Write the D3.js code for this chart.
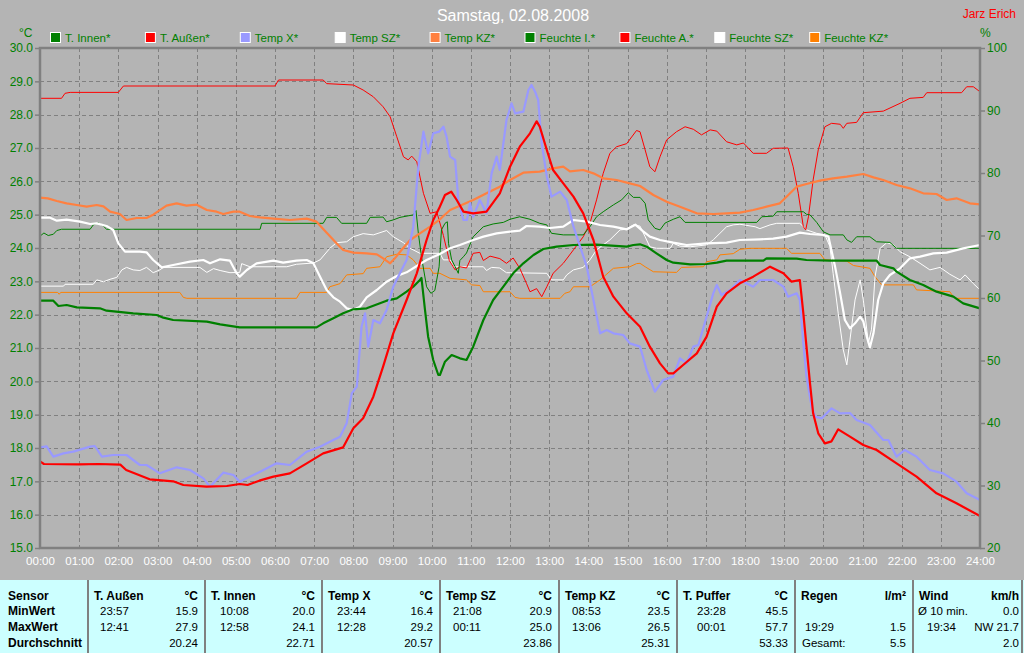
<!DOCTYPE html>
<html><head><meta charset="utf-8">
<script src="https://cdn.jsdelivr.net/npm/d3@7"></script>
<style>
html,body{margin:0;padding:0;background:#b4b4b4;}
svg{display:block;font-family:"Liberation Sans",Arial,sans-serif;}
</style></head><body>
<svg id="c" width="1024" height="653"></svg>
<script>
// ---------- DATA ----------
const titleText = "Samstag, 02.08.2008";
const authorText = "Jarz Erich";
const hourTicks = d3.range(0, 25);
const tempTicks = d3.range(15, 30.001, 1);
const humTicks = d3.range(20, 100.001, 10);

const legendNames = ["T. Innen*", "T. Außen*", "Temp X*", "Temp SZ*", "Temp KZ*", "Feuchte I.*", "Feuchte A.*", "Feuchte SZ*", "Feuchte KZ*"];
const legendColors = ["#008000", "#ff0000", "#9999ff", "#ffffff", "#ff8040", "#008000", "#ff0000", "#ffffff", "#ff8000"];

// temperatures [hour, °C]
const tInnen = [[0,22.42],[0.34,22.42],[0.47,22.26],[0.68,22.29],[0.94,22.22],[1.53,22.19],[1.7,22.12],[2.38,22.04],[2.98,21.99],[3.15,21.91],[3.4,21.84],[4.26,21.79],[4.6,21.71],[5.1,21.62],[7.06,21.62],[7.23,21.74],[7.49,21.89],[7.74,22.04],[8.0,22.16],[8.34,22.19],[8.68,22.34],[8.85,22.42],[9.11,22.49],[9.36,22.69],[9.53,22.84],[9.7,23.04],[9.74,23.1],[9.83,22.14],[9.91,21.34],[10.04,20.64],[10.17,20.19],[10.21,20.19],[10.34,20.59],[10.51,20.79],[10.72,20.69],[10.89,20.64],[11.06,21.04],[11.32,21.84],[11.57,22.44],[11.83,22.84],[12.08,23.24],[12.34,23.54],[12.6,23.79],[12.85,23.97],[13.19,24.04],[13.62,24.09],[14.21,24.1],[14.98,24.04],[15.15,24.09],[15.32,24.11],[15.49,24.04],[15.74,23.84],[16.0,23.64],[16.17,23.56],[16.6,23.51],[17.02,23.52],[17.28,23.56],[17.53,23.62],[18.47,23.62],[18.55,23.69],[19.32,23.68],[19.57,23.64],[20.17,23.62],[21.36,23.62],[21.45,23.49],[21.79,23.39],[21.87,23.29],[22.21,23.04],[22.55,22.89],[22.89,22.69],[23.32,22.54],[23.57,22.34],[24,22.19]];
const tAussen = [[0,17.6],[0.1,17.52],[1.0,17.51],[1.5,17.52],[2.05,17.5],[2.2,17.34],[2.8,17.06],[3.4,17.0],[3.66,16.89],[4.25,16.84],[4.77,16.86],[5.1,16.92],[5.3,16.89],[5.6,17.02],[5.96,17.14],[6.38,17.24],[6.81,17.54],[7.23,17.84],[7.74,18.02],[8.0,18.59],[8.25,18.89],[8.51,19.54],[8.76,20.44],[9.02,21.44],[9.36,22.44],[9.62,23.24],[9.87,24.24],[10.04,24.84],[10.19,25.19],[10.34,25.59],[10.5,25.69],[10.64,25.44],[10.81,25.09],[11.06,25.04],[11.4,25.09],[11.74,25.64],[12.0,26.44],[12.25,27.04],[12.51,27.44],[12.68,27.8],[12.76,27.64],[12.94,26.94],[13.1,26.34],[13.36,25.94],[13.62,25.54],[13.87,25.04],[14.13,24.24],[14.38,23.14],[14.64,22.54],[14.98,22.04],[15.32,21.64],[15.57,21.04],[15.83,20.54],[16.04,20.24],[16.17,20.24],[16.42,20.49],[16.77,20.84],[17.02,21.34],[17.28,22.24],[17.53,22.64],[17.87,22.94],[18.21,23.14],[18.64,23.44],[18.98,23.24],[19.19,22.99],[19.40,23.04],[19.49,22.04],[19.57,21.04],[19.66,19.94],[19.74,19.04],[19.87,18.44],[20.04,18.14],[20.21,18.2],[20.38,18.56],[20.68,18.34],[21.02,18.09],[21.36,17.94],[21.87,17.54],[22.38,17.14],[22.89,16.64],[23.4,16.34],[24,15.96]];
const tempX = [[0,18.02],[0.17,18.05],[0.34,17.74],[0.6,17.84],[0.85,17.89],[1.28,18.04],[1.4,18.06],[1.58,17.74],[1.87,17.79],[2.21,17.79],[2.55,17.49],[2.72,17.49],[3.06,17.24],[3.49,17.42],[3.83,17.34],[4.17,17.09],[4.34,16.84],[4.68,17.26],[4.94,17.19],[5.1,16.99],[5.62,17.29],[6.04,17.54],[6.38,17.49],[6.81,17.89],[7.15,18.04],[7.49,18.24],[7.66,18.34],[7.83,18.74],[7.96,19.64],[8.09,19.84],[8.21,21.64],[8.3,22.04],[8.38,21.04],[8.51,21.84],[8.68,21.74],[8.85,22.14],[9.02,22.84],[9.19,23.24],[9.36,23.64],[9.53,24.64],[9.66,26.44],[9.79,27.49],[9.91,26.84],[10.04,27.44],[10.19,27.49],[10.3,27.64],[10.38,27.34],[10.47,26.74],[10.6,26.64],[10.68,25.44],[10.81,24.84],[10.9,24.84],[10.98,25.34],[11.06,24.94],[11.23,25.44],[11.4,25.04],[11.53,26.24],[11.66,26.74],[11.74,26.34],[11.91,27.84],[12.04,28.34],[12.13,28.04],[12.34,28.09],[12.47,28.74],[12.55,28.89],[12.64,28.69],[12.72,28.44],[12.81,27.14],[12.94,26.14],[13.06,25.54],[13.28,25.69],[13.45,25.44],[13.62,24.64],[13.79,24.04],[13.96,23.44],[14.13,22.44],[14.3,21.44],[14.47,21.54],[14.64,21.44],[14.89,21.39],[15.06,21.14],[15.32,21.04],[15.49,20.34],[15.7,19.69],[15.91,20.04],[16.17,20.14],[16.34,20.69],[16.51,20.54],[16.68,21.04],[16.81,21.09],[17.02,21.94],[17.19,22.64],[17.28,22.89],[17.4,22.59],[17.62,22.74],[17.87,23.04],[18.21,22.84],[18.38,23.04],[18.72,23.04],[18.98,22.84],[19.1,22.54],[19.32,22.64],[19.40,22.44],[19.49,21.14],[19.57,20.14],[19.70,19.24],[19.79,18.94],[19.96,18.89],[20.21,19.19],[20.43,19.04],[20.68,19.05],[20.85,18.84],[21.19,18.69],[21.53,18.24],[21.66,18.24],[21.87,17.74],[22.08,17.94],[22.38,17.74],[22.72,17.34],[23.06,17.24],[23.4,16.99],[23.66,16.64],[24,16.44]];
const tempSZ = [[0,24.91],[0.26,24.91],[0.43,24.82],[0.68,24.85],[1.02,24.79],[1.28,24.72],[1.45,24.74],[1.7,24.66],[1.87,24.54],[2.0,24.14],[2.17,23.89],[2.55,23.89],[2.72,23.87],[2.89,23.64],[3.11,23.42],[3.4,23.49],[3.83,23.59],[4.17,23.64],[4.34,23.54],[4.6,23.66],[4.85,23.62],[5.02,23.24],[5.1,23.14],[5.28,23.34],[5.53,23.54],[5.96,23.62],[6.21,23.56],[6.55,23.62],[6.81,23.64],[6.98,23.54],[7.15,23.14],[7.32,22.74],[7.49,22.52],[7.66,22.39],[7.83,22.19],[8.0,22.14],[8.17,22.24],[8.34,22.52],[8.6,22.74],[8.85,22.99],[9.11,23.16],[9.36,23.27],[9.62,23.46],[9.87,23.64],[10.21,23.82],[10.47,23.99],[10.72,24.09],[11.06,24.24],[11.32,24.34],[11.66,24.44],[12.0,24.49],[12.25,24.52],[12.42,24.66],[12.76,24.64],[13.02,24.6],[13.36,24.64],[13.62,24.84],[13.96,24.79],[14.3,24.69],[14.64,24.64],[14.98,24.56],[15.2,24.7],[15.4,24.5],[15.57,24.34],[15.83,24.24],[16.17,24.16],[16.51,24.09],[17.02,24.14],[17.53,24.16],[17.87,24.24],[18.38,24.26],[18.72,24.28],[19.06,24.34],[19.40,24.46],[19.66,24.42],[20.0,24.39],[20.13,24.34],[20.3,23.44],[20.43,22.64],[20.55,21.84],[20.68,21.59],[20.81,21.74],[20.94,21.94],[21.02,21.8],[21.11,21.34],[21.19,21.02],[21.28,21.44],[21.4,22.44],[21.53,22.94],[21.7,23.19],[21.96,23.39],[22.21,23.69],[22.47,23.74],[22.81,23.84],[23.15,23.86],[23.57,23.99],[24,24.09]];
const tempKZ = [[0,25.51],[0.2,25.49],[0.43,25.41],[0.68,25.34],[0.94,25.29],[1.19,25.24],[1.45,25.29],[1.62,25.25],[1.79,25.09],[2.04,25.02],[2.21,24.84],[2.47,24.9],[2.72,24.9],[2.89,25.0],[3.23,25.27],[3.49,25.34],[3.74,25.27],[4.0,25.3],[4.26,25.14],[4.51,25.09],[4.68,25.02],[4.94,25.09],[5.1,25.09],[5.36,24.96],[5.62,24.92],[5.96,24.88],[6.38,24.84],[6.81,24.88],[7.06,24.79],[7.32,24.46],[7.57,24.14],[7.74,23.94],[8.0,23.86],[8.34,23.84],[8.6,23.81],[8.76,23.69],[8.94,23.54],[9.06,23.69],[9.23,23.94],[9.45,24.24],[9.7,24.44],[9.96,24.64],[10.21,24.86],[10.3,24.96],[10.47,25.14],[10.72,25.27],[11.06,25.44],[11.4,25.64],[11.74,25.84],[12.0,26.04],[12.34,26.26],[12.76,26.29],[13.1,26.39],[13.36,26.44],[13.53,26.3],[13.87,26.34],[14.13,26.24],[14.38,26.09],[14.72,26.04],[15.06,25.94],[15.32,25.86],[15.66,25.59],[16.0,25.39],[16.34,25.24],[16.77,25.04],[17.19,25.02],[17.53,25.04],[17.87,25.06],[18.21,25.14],[18.55,25.24],[18.89,25.34],[19.06,25.54],[19.32,25.84],[19.57,25.92],[19.91,26.02],[20.25,26.09],[20.6,26.14],[21.02,26.22],[21.28,26.12],[21.53,26.04],[21.87,25.89],[22.21,25.79],[22.55,25.64],[22.89,25.62],[23.15,25.44],[23.4,25.49],[23.74,25.34],[24,25.31]];

// humidities [hour, %]
const feuchteI = [[0,69.9],[0.1,70.4],[0.21,70.0],[0.34,70.2],[0.43,70.8],[0.55,71.0],[1.28,71.0],[1.36,71.7],[1.49,72.0],[1.62,71.5],[1.7,71.0],[5.62,71.0],[5.66,71.95],[7.23,71.95],[7.32,72.9],[7.57,72.9],[7.7,71.95],[8.34,71.95],[8.43,72.9],[8.76,72.95],[8.85,72.2],[9.02,72.5],[9.19,72.9],[9.53,73.3],[9.6,74.0],[9.66,70.35],[9.74,66.6],[9.87,61.8],[9.98,60.75],[10.08,61.2],[10.19,65.0],[10.25,70.9],[10.34,71.95],[10.4,72.2],[10.43,68.75],[10.51,66.1],[10.6,65.0],[10.68,63.95],[10.72,66.0],[10.81,66.6],[10.89,67.2],[11.06,69.8],[11.32,71.4],[11.57,71.85],[11.83,72.1],[12.0,72.6],[12.25,73.0],[12.51,72.6],[12.76,71.95],[12.94,71.7],[13.06,70.35],[13.36,70.1],[13.87,70.1],[14.04,71.4],[14.21,73.0],[14.38,73.8],[14.64,74.9],[14.85,75.7],[15.02,76.85],[15.15,76.1],[15.32,76.1],[15.45,75.15],[15.53,72.5],[15.7,71.15],[15.83,70.9],[15.96,72.0],[16.17,72.6],[16.34,73.0],[16.47,72.1],[18.3,72.1],[18.43,73.0],[18.72,73.1],[18.81,73.8],[19.49,73.8],[19.57,73.4],[19.66,73.3],[19.83,72.1],[20.0,70.6],[20.17,70.1],[20.51,70.1],[20.6,69.3],[20.72,68.9],[20.85,69.8],[21.19,69.8],[21.36,69.0],[21.7,68.9],[21.87,67.95],[24,67.95]];
const feuchteA = [[0,91.95],[0.55,91.95],[0.64,92.75],[0.77,92.9],[2.0,92.9],[2.13,93.92],[6.0,93.92],[6.09,94.88],[7.23,94.88],[7.32,94.3],[8.0,94.08],[8.25,93.28],[8.51,92.2],[8.76,90.6],[8.94,89.0],[9.11,85.8],[9.28,82.6],[9.4,82.1],[9.49,82.7],[9.62,81.8],[9.79,76.75],[9.96,73.55],[10.13,73.8],[10.3,70],[10.45,66],[10.6,64.5],[10.72,65.0],[10.89,64.8],[11.06,67.15],[11.23,67.3],[11.32,66.0],[11.49,66.7],[11.74,66.3],[11.91,65.55],[12.08,66.4],[12.25,64.75],[12.42,62.35],[12.51,61.0],[12.68,61.5],[12.81,60.2],[12.94,61.8],[13.1,63.95],[13.36,65.55],[13.62,67.7],[13.87,69.8],[14.04,71.95],[14.21,75.7],[14.38,79.95],[14.55,83.15],[14.72,84.2],[14.98,84.7],[15.23,86.8],[15.32,86.6],[15.45,83.7],[15.57,81.0],[15.7,80.2],[15.83,82.6],[16.0,85.3],[16.25,86.6],[16.47,87.4],[16.68,87.0],[16.89,86.1],[17.11,86.9],[17.28,86.7],[17.53,85.0],[17.79,84.5],[17.96,84.8],[18.21,83.15],[18.55,83.15],[18.72,83.95],[19.1,84.0],[19.23,81.0],[19.36,76.75],[19.49,71.4],[19.55,70.9],[19.62,73.0],[19.74,78.9],[19.87,83.7],[20.04,87.4],[20.21,87.95],[20.43,87.8],[20.51,87.15],[20.6,87.95],[20.85,88.1],[21.02,89.65],[21.53,89.9],[21.96,91.15],[22.21,91.95],[22.55,92.1],[22.64,92.85],[23.53,92.85],[23.66,93.8],[23.83,93.8],[24,93.0]];
const feuchteSZ = [[0,61.9],[0.6,61.9],[0.64,62.2],[1.36,62.2],[1.45,62.9],[1.62,62.6],[1.79,63.0],[1.96,63.3],[2.09,64.5],[2.21,64.9],[2.38,64.5],[2.55,64.4],[2.72,64.9],[2.89,64.05],[3.06,64.5],[3.15,64.9],[4.08,64.9],[4.26,64.1],[4.43,64.7],[4.6,64.4],[4.85,64.05],[5.1,64.1],[5.15,65.5],[5.36,65.0],[5.96,65.0],[6.3,65.0],[6.55,65.4],[6.98,65.6],[7.15,66.1],[7.4,67.95],[7.57,68.85],[7.83,69.0],[8.0,69.8],[8.25,70.3],[8.51,70.1],[8.85,70.8],[9.02,69.8],[9.28,68.85],[9.45,67.95],[9.7,67.15],[10.21,67.15],[10.3,66.1],[10.47,66.1],[10.55,65.0],[11.32,65.0],[11.4,64.4],[11.53,64.9],[11.74,64.8],[11.91,64.05],[12.94,63.95],[13.06,62.9],[13.36,62.9],[13.45,63.7],[13.62,64.5],[13.87,64.9],[14.04,66.1],[14.21,67.7],[14.38,68.5],[14.55,69.3],[14.81,70.9],[14.98,71.0],[15.15,71.7],[15.32,71.5],[15.45,69.8],[15.57,68.2],[15.74,67.95],[16.09,67.95],[16.17,68.75],[16.34,68.3],[16.6,68.2],[17.02,68.5],[17.19,69.3],[17.36,70.35],[17.53,71.4],[17.7,71.7],[17.87,71.8],[18.26,71.4],[18.38,71.1],[18.64,71.7],[18.81,71.95],[19.40,71.95],[19.57,70.9],[19.83,70.35],[20.04,70.1],[20.17,68.2],[20.25,63.95],[20.38,57.55],[20.51,51.7],[20.6,49.3],[20.68,53.3],[20.81,59.7],[20.94,62.9],[21.02,59.7],[21.15,52.75],[21.23,55.0],[21.32,63.4],[21.45,67.95],[21.62,68.85],[21.79,68.5],[21.96,67.4],[22.21,66.6],[22.47,65.55],[22.72,64.5],[22.98,64.9],[23.23,63.8],[23.49,62.9],[23.62,63.7],[23.83,62.3],[24,61.3]];
const feuchteKZ = [[0,60.9],[0.45,60.9],[0.49,60.6],[0.53,60.9],[3.57,60.9],[3.66,60.1],[3.75,59.95],[6.55,59.95],[6.64,60.9],[7.32,60.9],[7.4,61.8],[7.66,62.3],[7.83,63.7],[8.25,63.9],[8.34,64.75],[8.68,65.0],[8.85,66.6],[9.11,67.0],[9.36,66.9],[9.53,66.1],[9.7,64.75],[9.96,64.75],[10.04,63.95],[10.21,63.95],[10.47,63.15],[10.89,62.9],[11.02,62.1],[11.23,62.0],[11.32,61.0],[12.0,61.0],[12.13,60.1],[12.25,59.95],[13.28,59.95],[13.4,60.75],[13.53,61.0],[13.62,61.8],[14.04,61.8],[14.3,62.9],[14.64,64.75],[15.06,65.0],[15.23,65.5],[15.32,65.55],[15.45,65.0],[15.66,64.2],[16.25,64.1],[16.38,64.9],[16.94,65.0],[17.02,65.8],[17.28,66.1],[17.36,66.9],[17.7,67.1],[17.87,67.8],[18.13,67.95],[19.06,67.95],[19.19,67.15],[19.91,67.15],[20.04,66.1],[20.6,65.9],[20.77,65.2],[21.19,64.75],[21.32,63.4],[21.49,62.1],[22.3,62.1],[22.38,61.3],[23.23,61.0],[23.32,60.2],[23.4,59.95],[24,59.95]];

// statistics table
const tableRowLabels = ["Sensor", "MinWert", "MaxWert", "Durchschnitt"];
const tableSensors = ["T. Außen", "T. Innen", "Temp X", "Temp SZ", "Temp KZ", "T. Puffer", "Regen", "Wind"];
const tableUnits = ["°C", "°C", "°C", "°C", "°C", "°C", "l/m²", "km/h"];
const tableMinTime = ["23:57", "10:08", "23:44", "21:08", "08:53", "23:28", "", "Ø 10 min."];
const tableMinVal = ["15.9", "20.0", "16.4", "20.9", "23.5", "45.5", "", "0.0"];
const tableMaxTime = ["12:41", "12:58", "12:28", "00:11", "13:06", "00:01", "19:29", "19:34"];
const tableMaxVal = ["27.9", "24.1", "29.2", "25.0", "26.5", "57.7", "1.5", "NW 21.7"];
const tableAvgLabel = ["", "", "", "", "", "", "Gesamt:", ""];
const tableAvgVal = ["20.24", "22.71", "20.57", "23.86", "25.31", "53.33", "5.5", "2.0"];

// ---------- DRAW ----------
const svg = d3.select("#c");
const W = 1024, H = 653;
const L = 40, R = 980, T = 48, B = 548;
const GREEN = "#008000", GRID = "#808080";

svg.append("rect").attr("width", W).attr("height", H).attr("fill", "#b4b4b4");

const x = d3.scaleLinear().domain([0, 24]).range([L, R]);
const yT = d3.scaleLinear().domain([15, 30]).range([B, T]);
const yH = d3.scaleLinear().domain([20, 100]).range([B, T]);

// title
svg.append("text").attr("x", 513).attr("y", 21).attr("text-anchor", "middle")
  .attr("fill", "#ffffff").attr("font-size", 16).text(titleText);
svg.append("text").attr("x", 1016).attr("y", 18).attr("text-anchor", "end")
  .attr("fill", "#ff0000").attr("font-size", 12).text(authorText);
svg.append("text").attr("x", 19).attr("y", 37).attr("fill", GREEN).attr("font-size", 12).text("°C");
svg.append("text").attr("x", 980).attr("y", 37).attr("fill", GREEN).attr("font-size", 12).text("%");

// legend
const leg = svg.append("g");
legendNames.forEach((n, i) => {
  const lx = 50 + i * 94.9;
  leg.append("rect").attr("x", lx + 0.5).attr("y", 32.5).attr("width", 10).attr("height", 10)
    .attr("fill", legendColors[i]).attr("stroke", "#ffffff").attr("stroke-width", 1);
  leg.append("text").attr("x", lx + 15).attr("y", 42).attr("fill", GREEN).attr("font-size", 11.5).text(n);
});

// grid
const grid = svg.append("g").attr("stroke", GRID).attr("stroke-width", 1)
  .attr("stroke-dasharray", "4,3").attr("shape-rendering", "crispEdges");
grid.selectAll("line.h").data(tempTicks.filter(t => t > 15 && t < 30)).enter().append("line")
  .attr("x1", L).attr("x2", R).attr("y1", d => Math.round(yT(d)) + 0.5).attr("y2", d => Math.round(yT(d)) + 0.5);
grid.selectAll("line.v").data(hourTicks.filter(h => h > 0 && h < 24)).enter().append("line")
  .attr("y1", T).attr("y2", B).attr("x1", d => Math.round(x(d)) + 0.5).attr("x2", d => Math.round(x(d)) + 0.5);

// axes
const axL = svg.append("g").attr("transform", `translate(${L},0)`)
  .call(d3.axisLeft(yT).tickValues(tempTicks).tickFormat(d3.format(".1f")).tickSize(5).tickPadding(2));
const axR = svg.append("g").attr("transform", `translate(${R},0)`)
  .call(d3.axisRight(yH).tickValues(humTicks).tickSize(5).tickPadding(2));
const axB = svg.append("g").attr("transform", `translate(0,${B})`)
  .call(d3.axisBottom(x).tickValues(hourTicks).tickFormat(d => String(d).padStart(2, "0") + ":00").tickSize(0).tickPadding(9));
[axL, axR, axB].forEach(a => {
  a.select(".domain").remove();
  a.selectAll("line").attr("stroke", GRID).attr("stroke-width", 1.5);
  a.selectAll("text").attr("font-family", '"Liberation Sans",Arial,sans-serif').attr("font-size", 12);
});
axL.selectAll("text").attr("fill", GREEN);
axR.selectAll("text").attr("fill", GREEN);
axB.selectAll("text").attr("fill", "#ffffff").attr("font-size", 11.5);

// data lines
const lineT = d3.line().x(d => x(d[0])).y(d => yT(d[1]));
const lineH = d3.line().x(d => x(d[0])).y(d => yH(d[1]));
const plot = svg.append("g").attr("fill", "none").attr("stroke-linejoin", "round");
const humSeries = [[feuchteKZ, legendColors[8]], [feuchteSZ, legendColors[7]], [feuchteA, legendColors[6]], [feuchteI, legendColors[5]]];
humSeries.forEach(([d, c]) => plot.append("path").datum(d).attr("d", lineH).attr("stroke", c).attr("stroke-width", 1));
const tempSeries = [[tempKZ, legendColors[4]], [tempSZ, legendColors[3]], [tInnen, legendColors[0]], [tempX, legendColors[2]], [tAussen, legendColors[1]]];
tempSeries.forEach(([d, c]) => plot.append("path").datum(d).attr("d", lineT).attr("stroke", c).attr("stroke-width", 2.2));

// frame
svg.append("rect").attr("x", L).attr("y", T).attr("width", R - L).attr("height", B - T)
  .attr("fill", "none").attr("stroke", GRID).attr("stroke-width", 2.5);

// table
const tb = svg.append("g");
tb.append("rect").attr("x", 0).attr("y", 580).attr("width", W).attr("height", H - 580).attr("fill", "#ccffff");
const seps = [88, 205, 322, 440, 559, 677, 795, 913, 1022];
seps.forEach(s => tb.append("line").attr("x1", s).attr("x2", s).attr("y1", 580).attr("y2", H)
  .attr("stroke", GRID).attr("stroke-width", 2));
const rowY = [600, 615, 631, 647];
tableRowLabels.forEach((r, i) => tb.append("text").attr("x", 8).attr("y", rowY[i])
  .attr("font-size", 12).attr("font-weight", "bold").attr("fill", "#000").text(r));
const timeOff = [12, 15, 15, 13, 13, 20, 10, 5];
tableSensors.forEach((s, i) => {
  const x0 = seps[i], x1 = seps[i + 1];
  const rx = i === 7 ? x1 - 3 : x1 - 7;
  const tx = x0 + timeOff[i];
  const g = tb.append("g").attr("fill", "#000").attr("font-size", 11.5);
  g.append("text").attr("x", x0 + 6).attr("y", rowY[0]).attr("font-weight", "bold").attr("font-size", 12).text(s);
  g.append("text").attr("x", rx).attr("y", rowY[0]).attr("text-anchor", "end").attr("font-weight", "bold").attr("font-size", 12).text(tableUnits[i]);
  g.append("text").attr("x", tx).attr("y", rowY[1]).text(tableMinTime[i]);
  g.append("text").attr("x", rx).attr("y", rowY[1]).attr("text-anchor", "end").text(tableMinVal[i]);
  g.append("text").attr("x", i === 7 ? x0 + 14 : tx).attr("y", rowY[2]).text(tableMaxTime[i]);
  g.append("text").attr("x", rx).attr("y", rowY[2]).attr("text-anchor", "end").text(tableMaxVal[i]);
  g.append("text").attr("x", x0 + 7).attr("y", rowY[3]).text(tableAvgLabel[i]);
  g.append("text").attr("x", rx).attr("y", rowY[3]).attr("text-anchor", "end").text(tableAvgVal[i]);
});
</script>
</body></html>
